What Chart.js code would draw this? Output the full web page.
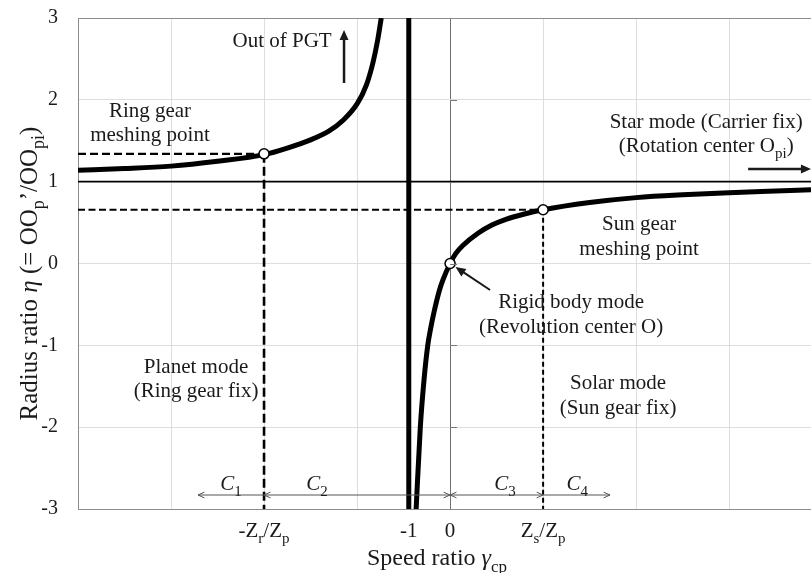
<!DOCTYPE html>
<html>
<head>
<meta charset="utf-8">
<title>Radius ratio vs speed ratio</title>
<script src="https://cdn.jsdelivr.net/npm/chart.js@4.4.1/dist/chart.umd.min.js"></script>
<style>
  html, body { margin: 0; padding: 0; background: #fff; overflow: hidden; }
  #wrap { width: 811px; height: 573px; }
</style>
</head>
<body>
<div id="wrap"><canvas id="modeChart" width="811" height="573"></canvas></div>
<script>
// speed ratio is plotted in grid units: 0 = rigid body point, 1 = Zs/Zp
const leftGamma  = [-4.0, -3.5, -3.0, -2.5, -2.0, -1.75, -1.5, -1.3, -1.15, -1.0, -0.9, -0.83, -0.78, -0.74];
const leftEta    = [1.14, 1.16, 1.19, 1.25, 1.33, 1.41, 1.51, 1.62, 1.75, 1.95, 2.18, 2.45, 2.72, 3.0];
const rightGamma = [-0.365, -0.32, -0.28, -0.24, -0.21, -0.17, -0.115, -0.08, 0, 0.06, 0.137, 0.3, 0.45, 0.6, 0.8, 1.0, 1.5, 2.0, 2.5, 3.0, 3.5, 3.88];
const rightEta   = [-3.0, -2.0, -1.42, -1.0, -0.8, -0.58, -0.33, -0.21, 0, 0.12, 0.22, 0.37, 0.47, 0.54, 0.605, 0.657, 0.745, 0.805, 0.84, 0.865, 0.885, 0.9];

const poleGamma = -0.444;          // gamma_cp = -1
const meshNames = ['ring', 'rigid', 'sun'];
const meshGamma = [-2, 0, 1];      // -Zr/Zp, 0, Zs/Zp
const meshEta   = [1.34, 0, 0.657];

const xTickValues = [-2, poleGamma, 0, 1];
const xTickLabels = ['-Z{r}/Z{p}', '-1', '0', 'Z{s}/Z{p}'];
const yTickValues = [-3, -2, -1, 0, 1, 2, 3];

const spanLabels = ['*C*{1}', '*C*{2}', '*C*{3}', '*C*{4}'];
const spanCenters = [-2.355, -1.43, 0.59, 1.366];

const X_MIN = -4, X_MAX = 3.88;
const FONT = '"Liberation Serif", "Times New Roman", serif';
const INK = '#1a1a1a';

const pts = (xs, ys) => xs.map((x, i) => ({ x, y: ys[i] }));

// text with *italic* and {subscript} runs
function parseRich(str) {
    return str.split(/(\*[^*]+\*|\{[^}]+\})/).filter(Boolean).map(s => {
        if (s[0] === '*') return { text: s.slice(1, -1), italic: true };
        if (s[0] === '{') return { text: s.slice(1, -1), sub: true };
        return { text: s };
    });
}

function drawRich(ctx, str, x, y, size, align = 'center') {
    const parts = parseRich(str);
    const fontFor = p => `${p.italic ? 'italic ' : ''}${p.sub ? Math.round(size * 0.7) : size}px ${FONT}`;
    let total = 0;
    parts.forEach(p => {
        ctx.font = fontFor(p);
        p.w = ctx.measureText(p.text).width;
        total += p.w;
    });
    let cx = align === 'center' ? x - total / 2 : align === 'right' ? x - total : x;
    ctx.textAlign = 'left';
    ctx.textBaseline = 'alphabetic';
    parts.forEach(p => {
        ctx.font = fontFor(p);
        ctx.fillText(p.text, cx, p.sub ? y + size * 0.28 : y);
        cx += p.w;
    });
}

function arrow(ctx, x1, y1, x2, y2, o) {
    const ang = Math.atan2(y2 - y1, x2 - x1);
    ctx.save();
    ctx.strokeStyle = o.color;
    ctx.fillStyle = o.color;
    ctx.lineWidth = o.width;
    ctx.beginPath();
    ctx.moveTo(x1, y1);
    ctx.lineTo(o.filled ? x2 - Math.cos(ang) * o.head * 0.8 : x2, o.filled ? y2 - Math.sin(ang) * o.head * 0.8 : y2);
    ctx.stroke();
    const heads = o.both ? [[x2, y2, ang], [x1, y1, ang + Math.PI]] : [[x2, y2, ang]];
    heads.forEach(([hx, hy, a]) => {
        const ax = hx - Math.cos(a - 0.42) * o.head, ay = hy - Math.sin(a - 0.42) * o.head;
        const bx = hx - Math.cos(a + 0.42) * o.head, by = hy - Math.sin(a + 0.42) * o.head;
        ctx.beginPath();
        if (o.filled) {
            ctx.moveTo(hx, hy); ctx.lineTo(ax, ay); ctx.lineTo(bx, by); ctx.closePath(); ctx.fill();
        } else {
            ctx.lineWidth = 1;
            ctx.moveTo(ax, ay); ctx.lineTo(hx, hy); ctx.lineTo(bx, by); ctx.stroke();
        }
    });
    ctx.restore();
}

// mode notes inside the plot, anchored in data units (first line baseline)
const notes = [
    { lines: ['Out of PGT'], g: -1.806, eta: 2.649 },
    { lines: ['Ring gear', 'meshing point'], g: -3.226, eta: 1.794 },
    { lines: ['Star mode (Carrier fix)', '(Rotation center O{pi})'], g: 2.753, eta: 1.656 },
    { lines: ['Sun gear', 'meshing point'], g: 2.032, eta: 0.409 },
    { lines: ['Rigid body mode', '(Revolution center O)'], g: 1.301, eta: -0.544 },
    { lines: ['Planet mode', '(Ring gear fix)'], g: -2.731, eta: -1.338 },
    { lines: ['Solar mode', '(Sun gear fix)'], g: 1.806, eta: -1.534 }
];

// C1..C4 range arrows along the bottom
const spans = [
    { a: -2, b: -2.71 },
    { a: poleGamma, b: -2 },
    { a: poleGamma, b: 0 },
    { a: 0, b: 1, both: true },
    { a: 1, b: 1.72 }
];

const notesPlugin = {
    id: 'modeNotes',
    afterDraw(chart) {
        const { ctx, chartArea: area, scales: { x, y } } = chart;
        ctx.save();

        // small ticks on the gamma = 0 axis
        ctx.strokeStyle = '#777';
        ctx.lineWidth = 1;
        const x0 = x.getPixelForValue(0);
        yTickValues.slice(1, -1).forEach(v => {
            const py = Math.round(y.getPixelForValue(v)) + 0.5;
            ctx.beginPath(); ctx.moveTo(x0, py); ctx.lineTo(x0 + 7, py); ctx.stroke();
        });

        ctx.fillStyle = INK;
        notes.forEach(n => {
            const px = x.getPixelForValue(n.g);
            const py = y.getPixelForValue(n.eta);
            n.lines.forEach((line, i) => drawRich(ctx, line, px, py + i * 24.5, 21));
        });

        // "Out of PGT" arrow
        arrow(ctx, x.getPixelForValue(-1.14), y.getPixelForValue(2.206), x.getPixelForValue(-1.14), y.getPixelForValue(2.853),
            { color: INK, width: 2.5, head: 11, filled: true });
        // star mode arrow to the right
        arrow(ctx, x.getPixelForValue(3.204), y.getPixelForValue(1.155), area.right, y.getPixelForValue(1.155),
            { color: INK, width: 2.5, head: 11, filled: true });
        // rigid body mode pointer to the origin point
        const ox = x.getPixelForValue(0), oy = y.getPixelForValue(0);
        const tx = x.getPixelForValue(0.43), ty = y.getPixelForValue(-0.324);
        const len = Math.hypot(tx - ox, ty - oy);
        arrow(ctx, tx, ty, ox + (tx - ox) / len * 6.5, oy + (ty - oy) / len * 6.5,
            { color: INK, width: 2, head: 11, filled: true });

        // range arrows and their labels
        const sy = y.getPixelForValue(-2.829);
        spans.forEach(s => arrow(ctx, x.getPixelForValue(s.a), sy, x.getPixelForValue(s.b), sy,
            { color: '#555', width: 1, head: 7, filled: false, both: s.both }));
        ctx.fillStyle = INK;
        spanLabels.forEach((lbl, i) => drawRich(ctx, lbl, x.getPixelForValue(spanCenters[i]), y.getPixelForValue(-2.768), 21));

        // x tick labels and axis titles
        xTickValues.forEach((v, i) => drawRich(ctx, xTickLabels[i], x.getPixelForValue(v), area.bottom + 28, 21));
        drawRich(ctx, 'Speed ratio *γ*{cp}', 437, area.bottom + 56, 24);
        ctx.translate(area.left - 41, (area.top + area.bottom) / 2 + 10);
        ctx.rotate(-Math.PI / 2);
        drawRich(ctx, 'Radius ratio *η* (= OO{p}’/OO{pi})', 0, 0, 25);
        ctx.restore();
    }
};

const lineStyle = { showLine: true, pointRadius: 0, fill: false, borderColor: '#000' };

new Chart(document.getElementById('modeChart'), {
    type: 'scatter',
    data: {
        datasets: [
            {
                label: 'mesh points',
                data: pts(meshGamma, meshEta),
                showLine: false,
                pointRadius: 5,
                pointBackgroundColor: '#fff',
                pointBorderColor: '#000',
                pointBorderWidth: 1.5,
                order: 0
            },
            { ...lineStyle, label: 'eta (gamma < -1)', data: pts(leftGamma, leftEta), borderWidth: 5, cubicInterpolationMode: 'monotone', order: 1 },
            { ...lineStyle, label: 'eta (gamma > -1)', data: pts(rightGamma, rightEta), borderWidth: 5, cubicInterpolationMode: 'monotone', order: 1 },
            { ...lineStyle, label: 'gamma = -1', data: [{ x: poleGamma, y: -3 }, { x: poleGamma, y: 3 }], borderWidth: 5, order: 2 },
            { ...lineStyle, label: 'ring h', data: [{ x: X_MIN, y: meshEta[0] }, { x: meshGamma[0], y: meshEta[0] }], borderWidth: 2.2, borderDash: [8, 4], order: 3 },
            { ...lineStyle, label: 'ring v', data: [{ x: meshGamma[0], y: meshEta[0] }, { x: meshGamma[0], y: -3 }], borderWidth: 2.6, borderDash: [9, 4], order: 3 },
            { ...lineStyle, label: 'sun h', data: [{ x: X_MIN, y: meshEta[2] }, { x: meshGamma[2], y: meshEta[2] }], borderWidth: 2, borderDash: [7, 3.5], order: 3 },
            { ...lineStyle, label: 'sun v', data: [{ x: meshGamma[2], y: meshEta[2] }, { x: meshGamma[2], y: -3 }], borderWidth: 2, borderDash: [5, 3], order: 3 },
            { ...lineStyle, label: 'eta = 1', data: [{ x: X_MIN, y: 1 }, { x: X_MAX, y: 1 }], borderWidth: 1.6, order: 4 }
        ]
    },
    options: {
        responsive: false,
        animation: false,
        layout: { autoPadding: false, padding: { top: 18, right: 0, bottom: 0, left: 0 } },
        plugins: { legend: { display: false }, tooltip: { enabled: false } },
        scales: {
            x: {
                type: 'linear',
                min: X_MIN,
                max: X_MAX,
                afterFit(scale) {
                    scale.height = 64;
                    scale.paddingLeft = scale.paddingRight = 0;
                },
                afterBuildTicks(scale) {
                    scale.ticks = [-4, -3, -2, -1, 0, 1, 2, 3].map(v => ({ value: v }));
                },
                ticks: { display: false },
                grid: {
                    drawTicks: false,
                    lineWidth: 1,
                    color: c => c.tick && c.tick.value === 0 ? '#6e6e6e' : c.tick && c.tick.value === -4 ? '#8c8c8c' : '#dedede'
                },
                border: { color: '#8c8c8c', width: 1 }
            },
            y: {
                min: -3,
                max: 3,
                afterFit(scale) {
                    scale.width = 78;
                    scale.paddingTop = scale.paddingBottom = 0;
                },
                afterBuildTicks(scale) {
                    scale.ticks = yTickValues.map(v => ({ value: v }));
                },
                ticks: {
                    padding: 20,
                    color: INK,
                    font: { family: FONT, size: 20 }
                },
                grid: {
                    drawTicks: false,
                    lineWidth: 1,
                    color: c => c.tick && Math.abs(c.tick.value) === 3 ? '#8c8c8c' : '#dedede'
                },
                border: { color: '#8c8c8c', width: 1 }
            }
        }
    },
    plugins: [notesPlugin]
});
</script>
</body>
</html>
